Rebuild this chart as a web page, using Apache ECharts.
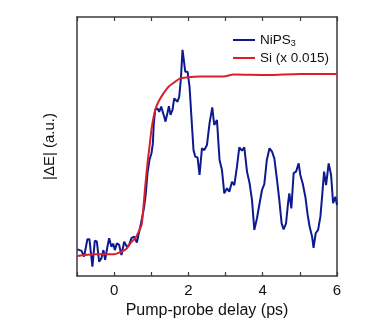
<!DOCTYPE html>
<html>
<head>
<meta charset="utf-8">
<script src="https://cdn.jsdelivr.net/npm/echarts@6/dist/echarts.min.js"></script>
<style>html,body{margin:0;padding:0;background:#fff}#c{width:374px;height:325px}</style>
</head>
<body>
<div id="c"></div>
<script>
// Pump-probe delay (ps) and |ΔE| (a.u., % of plot height)
var nipsX = [-0.99,-0.935,-0.881,-0.809,-0.72,-0.666,-0.585,-0.52,-0.466,-0.404,-0.342,-0.288,-0.243,-0.181,-0.135,-0.073,-0.027,0.019,0.073,0.135,0.197,0.27,0.342,0.404,0.466,0.539,0.612,0.655,0.72,0.763,0.809,0.849,0.898,0.951,1.005,1.043,1.065,1.105,1.167,1.213,1.267,1.302,1.348,1.383,1.437,1.474,1.518,1.571,1.617,1.663,1.706,1.752,1.798,1.841,1.887,1.914,1.976,2.03,2.094,2.137,2.183,2.245,2.299,2.364,2.426,2.499,2.569,2.642,2.695,2.768,2.838,2.903,2.965,3.038,3.1,3.173,3.235,3.307,3.369,3.442,3.504,3.577,3.647,3.712,3.774,3.846,3.916,3.981,4.043,4.111,4.183,4.251,4.313,4.385,4.447,4.509,4.563,4.628,4.682,4.717,4.771,4.833,4.898,4.968,5.013,5.075,5.148,5.21,5.264,5.329,5.369,5.426,5.491,5.553,5.606,5.652,5.706,5.776,5.841,5.895,5.957,6.0];
var nipsY = [10.3,10.0,9.8,7.5,14.2,14.2,3.6,13.6,13.3,5.5,6.9,10.0,6.2,11.3,14.6,11.3,12.5,10.0,12.6,12.0,8.1,13.2,11.3,12.0,14.6,15.2,12.9,15.8,20.1,23.2,26.8,31.3,39.7,44.8,47.4,51.2,58.3,64.1,64.7,63.4,65.4,65.6,61.5,59.6,63.1,65.6,62.2,64.1,68.6,69.0,67.3,69.2,76.3,87.3,82.1,78.9,78.9,73.1,58.3,48.6,46.1,45.8,39.0,49.3,48.6,50.6,59.0,65.1,58.3,60.2,44.8,40.9,31.9,33.9,32.5,36.4,35.1,42.2,49.7,48.4,49.7,40.3,35.8,29.3,17.8,22.3,28.1,33.2,35.5,44.8,49.3,48.0,45.4,37.1,29.3,20.3,18.0,20.3,28.1,31.9,26.1,39.7,40.3,43.5,39.0,35.8,30.6,23.6,19.0,15.2,10.9,16.5,17.8,22.9,31.9,40.3,35.1,43.5,39.0,28.1,30.6,27.4];
var siX = [-0.99,-0.539,0,0.135,0.315,0.45,0.585,0.72,0.747,0.79,0.836,0.898,0.951,1.016,1.105,1.194,1.329,1.464,1.644,1.779,1.96,2.318,2.946,3.216,4.116,5.013,6.0];
var siY = [7.7,8.4,8.4,9.0,10.3,12.9,14.9,19.0,20.3,26.8,34.5,43.5,49.9,57.6,64.1,67.3,70.5,73.1,75.0,76.3,76.7,77.0,77.0,77.8,77.6,78.0,78.0];
var seriesNames = ['NiPS3', 'Si (x 0.015)'];
var xTickLabels = ['0', '2', '4', '6'];

function pairs(xs, ys) { return xs.map(function (x, i) { return [x, ys[i]]; }); }

var FONT = 'Liberation Sans, Arial, sans-serif';
var AX = '#3a3a3a';
var chart = echarts.init(document.getElementById('c'), null, { renderer: 'canvas' });
chart.setOption({
  animation: false,
  backgroundColor: '#fff',
  grid: { left: 77, right: 37, top: 17, bottom: 49 },
  legend: {
    left: 228, top: 28, orient: 'vertical', itemGap: 3,
    icon: 'rect', itemWidth: 22, itemHeight: 2,
    data: seriesNames,
    formatter: function (n) { return n === 'NiPS3' ? '{a|NiPS}{s|3}' : '{a|' + n + '}'; },
    textStyle: {
      rich: {
        a: { fontFamily: FONT, fontSize: 13.5, color: '#111', lineHeight: 16 },
        s: { fontFamily: FONT, fontSize: 9, color: '#111', lineHeight: 8, verticalAlign: 'bottom' }
      }
    }
  },
  xAxis: [{
    type: 'value', min: -1, max: 6, interval: 1, position: 'bottom',
    name: 'Pump-probe delay (ps)', nameLocation: 'middle', nameGap: 26,
    nameTextStyle: { fontFamily: FONT, fontSize: 16, color: '#111' },
    axisLine: { onZero: false, lineStyle: { color: AX, width: 1.5 } },
    axisTick: { inside: true, length: 4, lineStyle: { color: AX, width: 1.2 } },
    axisLabel: { margin: 7, fontFamily: FONT, fontSize: 15, color: '#111',
      formatter: function (v) { var s = String(v); return xTickLabels.indexOf(s) >= 0 ? s : ''; } },
    splitLine: { show: false }
  }, {
    type: 'value', min: -1, max: 6, interval: 1, position: 'top',
    axisLine: { onZero: false, lineStyle: { color: AX, width: 1.5 } },
    axisTick: { inside: true, length: 4, lineStyle: { color: AX, width: 1.2 } },
    axisLabel: { show: false }, splitLine: { show: false }
  }],
  yAxis: [{
    type: 'value', min: 0, max: 100, position: 'left',
    name: '|\u0394E| (a.u.)', nameLocation: 'middle', nameGap: 20, nameRotate: 90,
    nameTextStyle: { fontFamily: FONT, fontSize: 15, color: '#111' },
    axisLine: { show: true, onZero: false, lineStyle: { color: AX, width: 1.5 } },
    axisTick: { show: false }, axisLabel: { show: false }, splitLine: { show: false }
  }, {
    type: 'value', min: 0, max: 100, position: 'right',
    axisLine: { show: true, onZero: false, lineStyle: { color: AX, width: 1.5 } },
    axisTick: { show: false }, axisLabel: { show: false }, splitLine: { show: false }
  }],
  series: [{
    name: seriesNames[0], type: 'line', data: pairs(nipsX, nipsY),
    showSymbol: false, symbol: 'none', color: '#0d1a8f',
    lineStyle: { color: '#0d1a8f', width: 2 }, z: 2
  }, {
    name: seriesNames[1], type: 'line', data: pairs(siX, siY), smooth: 0.3,
    showSymbol: false, symbol: 'none', color: '#d8202c',
    lineStyle: { color: '#d8202c', width: 2 }, z: 3
  }]
});
</script>
</body>
</html>
